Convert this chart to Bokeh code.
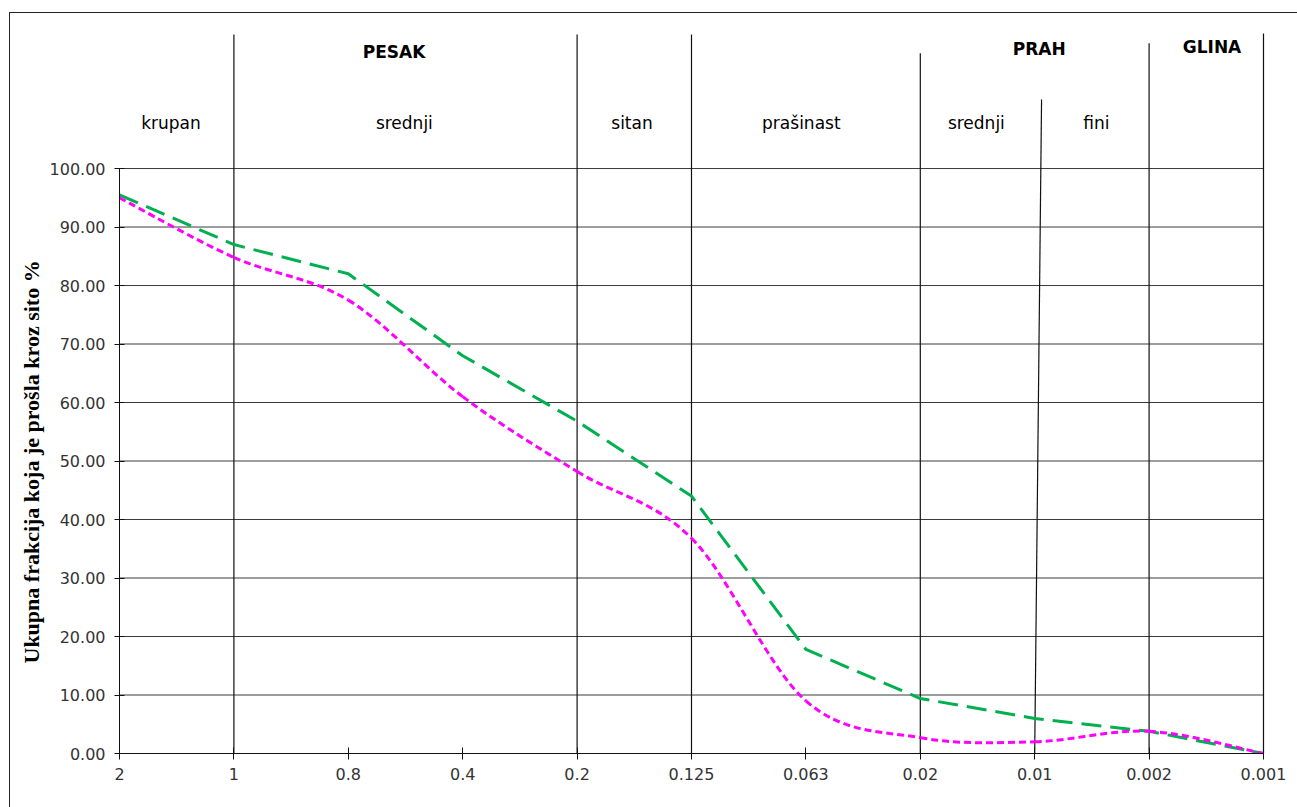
from bokeh.plotting import figure
from bokeh.models import Range1d, FixedTicker, NumeralTickFormatter, Title
from bokeh.core.properties import value
from bokeh.embed import file_html
from bokeh.resources import INLINE

# ---- data ----
x_labels = ["2", "1", "0.8", "0.4", "0.2", "0.125", "0.063", "0.02", "0.01", "0.002", "0.001"]
series_green = [95.5, 87.0, 82.0, 68.0, 56.8, 44.0, 17.8, 9.4, 6.0, 3.8, 0.0]
series_magenta = [95.0, 84.8, 77.5, 61.0, 48.2, 36.8, 9.0, 2.7, 2.0, 3.8, 0.0]
y_ticks = [0, 10, 20, 30, 40, 50, 60, 70, 80, 90, 100]
y_title = "Ukupna frakcija koja je prošla kroz sito %"

# zone divider lines (category index at bottom, at top, top height)
div_x = [1, 4, 5, 7, 8, 9, 10]
div_x_top = [1, 4, 5, 7, 8.06, 9, 10]
div_top = [122.9, 122.9, 122.9, 119.7, 111.8, 121.4, 123.1]

# zone labels
head_text = ["PESAK", "PRAH", "GLINA"]
head_x = [2.40, 8.04, 9.55]
head_y = [120.0, 120.5, 120.7]
sub_text = ["krupan", "srednji", "sitan", "prašinast", "srednji", "fini"]
sub_x = [0.45, 2.49, 4.48, 5.96, 7.49, 8.54]
sub_y = [107.7, 107.7, 107.7, 107.7, 107.7, 107.7]

xs = list(range(len(x_labels)))

p = figure(width=1288, height=795, output_backend="svg", toolbar_location=None,
           x_range=Range1d(0, 10.306), y_range=Range1d(0, 126.5),
           min_border_left=109, min_border_right=0, min_border_top=0, min_border_bottom=55)
p.styles = {"margin-left": "9px", "margin-top": "12px",
            "border-left": "1.5px solid #222", "border-top": "1.5px solid #222"}
p.outline_line_color = None
p.xgrid.visible = False
p.ygrid.visible = False
p.background_fill_color = "white"
p.border_fill_color = "white"

# horizontal grid lines between first and last category
p.segment(x0=[0] * len(y_ticks), y0=y_ticks, x1=[xs[-1]] * len(y_ticks), y1=y_ticks,
          line_color="#3a3a3a", line_width=1)
# zone divider lines
p.segment(x0=div_x, y0=[0] * len(div_x), x1=div_x_top, y1=div_top,
          line_color="#111111", line_width=1.2)

# green series (straight, long dash)
p.line(xs, series_green, line_color="#00b050", line_width=3, line_dash="20 9")

# magenta series (smoothed, short dash) drawn as Bezier segments from the data points
n = len(xs)
x0, y0, x1, y1, cx0, cy0, cx1, cy1 = [], [], [], [], [], [], [], []
for i in range(n - 1):
    xp, yp = (xs[i - 1], series_magenta[i - 1]) if i > 0 else (xs[i], series_magenta[i])
    xn, yn = (xs[i + 2], series_magenta[i + 2]) if i + 2 < n else (xs[i + 1], series_magenta[i + 1])
    ax, ay = xs[i], series_magenta[i]
    bx, by = xs[i + 1], series_magenta[i + 1]
    x0.append(ax); y0.append(ay); x1.append(bx); y1.append(by)
    cx0.append(ax + (bx - xp) / 6); cy0.append(ay + (by - yp) / 6)
    cx1.append(bx - (xn - ax) / 6); cy1.append(by - (yn - ay) / 6)
p.bezier(x0=x0, y0=y0, x1=x1, y1=y1, cx0=cx0, cy0=cy0, cx1=cx1, cy1=cy1,
         line_color="#ff00ff", line_width=3, line_dash="7 4")

# zone texts
p.text(x=head_x, y=head_y, text=head_text, text_align="center", text_baseline="middle",
       text_font=value("DejaVu Sans"), text_font_style="bold", text_font_size="17px",
       text_color="black")
p.text(x=sub_x, y=sub_y, text=sub_text, text_align="center", text_baseline="middle",
       text_font=value("DejaVu Sans"), text_font_size="17px", text_color="black")

# axes
xa = p.xaxis[0]
xa.ticker = FixedTicker(ticks=xs)
xa.major_label_overrides = {i: lab for i, lab in enumerate(x_labels)}
xa.bounds = (0, xs[-1])
xa.minor_tick_line_color = None
xa.major_tick_in = 6
xa.major_tick_out = 6
xa.major_label_standoff = 8
xa.axis_line_color = "#111111"
xa.major_tick_line_color = "#111111"
xa.major_label_text_font = "DejaVu Sans"
xa.major_label_text_font_size = "16px"
xa.major_label_text_color = "#333333"

ya = p.yaxis[0]
ya.ticker = FixedTicker(ticks=y_ticks)
ya.formatter = NumeralTickFormatter(format="0.00")
ya.bounds = (0, 100)
ya.minor_tick_line_color = None
ya.major_tick_in = 5
ya.major_tick_out = 5
ya.major_label_standoff = 9
ya.axis_line_color = "#111111"
ya.major_tick_line_color = "#111111"
ya.major_label_text_font = "DejaVu Sans"
ya.major_label_text_font_size = "16px"
ya.major_label_text_color = "#333333"

# y axis title, shifted so it is centred on the 0-100 span
p.add_layout(Title(text=y_title, align="left", offset=90, standoff=5,
                   text_font="Liberation Serif", text_font_style="bold",
                   text_font_size="22px", text_color="black"), "left")

open("out.html", "w").write(file_html(p, INLINE))
